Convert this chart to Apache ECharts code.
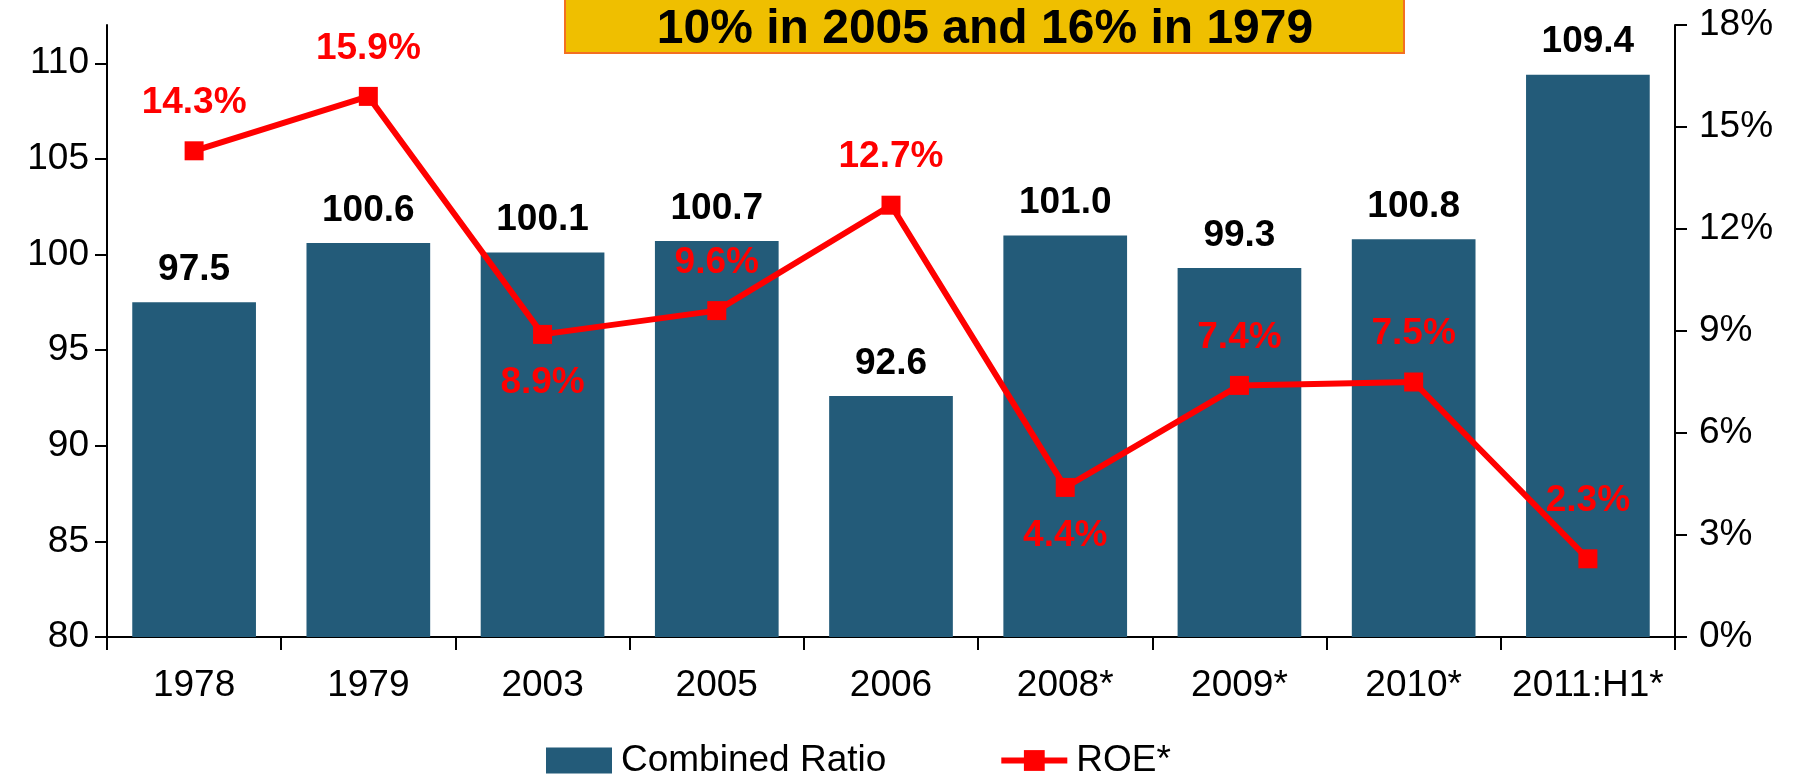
<!DOCTYPE html>
<html>
<head>
<meta charset="utf-8">
<script src="https://cdn.jsdelivr.net/npm/echarts@6/dist/echarts.min.js"></script>
<style>
  html, body { margin: 0; padding: 0; background: #fff; }
  #chart { width: 1797px; height: 775px; }
</style>
</head>
<body>
<div id="chart"></div>
<script>
// data
const categories = ['1978', '1979', '2003', '2005', '2006', '2008*', '2009*', '2010*', '2011:H1*'];
const combinedRatio = [97.5, 100.6, 100.1, 100.7, 92.6, 101.0, 99.3, 100.8, 109.4];
const roe = [14.3, 15.9, 8.9, 9.6, 12.7, 4.4, 7.4, 7.5, 2.3];
const leftTicks = [80, 85, 90, 95, 100, 105, 110];
const headline = '10% in 2005 and 16% in 1979';

// where each ROE label sits relative to its marker
const roeLabelSide = ['top', 'top', 'bottom', 'top', 'top', 'bottom', 'top', 'top', 'top'];

const FONT = 'Liberation Sans, Arial, sans-serif';
const BAR = '#235b79';
const RED = '#ff0000';

const chart = echarts.init(document.getElementById('chart'), null, { renderer: 'canvas' });

const option = {
  backgroundColor: '#fff',
  animation: false,
  textStyle: { fontFamily: FONT },
  grid: { left: 107, right: 122, top: 25, bottom: 138, containLabel: false },
  legend: {
    left: 541,
    top: 737,
    itemWidth: 66,
    itemHeight: 26,
    itemGap: 112,
    textStyle: { fontSize: 37, color: '#000', fontFamily: FONT, padding: [0, 0, 0, 4] },
    data: [
      { name: 'Combined Ratio', icon: 'rect' },
      { name: 'ROE*', lineStyle: { width: 6, color: RED } }
    ]
  },
  xAxis: {
    type: 'category',
    data: categories,
    axisLine: { lineStyle: { color: '#000', width: 2 } },
    axisTick: { show: true, length: 13, interval: 0, alignWithLabel: false, lineStyle: { color: '#000', width: 2 } },
    axisLabel: { interval: 0, color: '#000', fontSize: 37, margin: 30, fontFamily: FONT }
  },
  yAxis: [
    {
      type: 'value',
      min: 80,
      max: 112,
      splitLine: { show: false },
      axisLine: { show: true, lineStyle: { color: '#000', width: 2 } },
      axisTick: { show: true, length: 12, customValues: leftTicks, lineStyle: { color: '#000', width: 2 } },
      axisLabel: { customValues: leftTicks, color: '#000', fontSize: 37, margin: 18, fontFamily: FONT }
    },
    {
      type: 'value',
      min: 0,
      max: 18,
      interval: 3,
      position: 'right',
      splitLine: { show: false },
      axisLine: { show: true, lineStyle: { color: '#000', width: 2 } },
      axisTick: { show: true, length: 12, lineStyle: { color: '#000', width: 2 } },
      axisLabel: { formatter: '{value}%', color: '#000', fontSize: 37, margin: 24, fontFamily: FONT }
    }
  ],
  series: [
    {
      name: 'Combined Ratio',
      type: 'bar',
      yAxisIndex: 0,
      data: combinedRatio,
      barCategoryGap: '29%',
      itemStyle: { color: BAR },
      label: {
        show: true,
        position: 'top',
        distance: 14,
        color: '#000',
        fontSize: 37,
        fontWeight: 'bold',
        fontFamily: FONT,
        formatter: p => p.value.toFixed(1)
      },
      z: 2
    },
    {
      name: 'ROE*',
      type: 'line',
      yAxisIndex: 1,
      data: roe.map((v, i) => ({
        value: v,
        label: { position: roeLabelSide[i], distance: i === 8 ? 30 : 20 }
      })),
      symbol: 'rect',
      symbolSize: 19,
      lineStyle: { color: RED, width: 6 },
      itemStyle: { color: RED },
      label: {
        show: true,
        color: RED,
        fontSize: 37,
        fontWeight: 'bold',
        fontFamily: FONT,
        formatter: p => p.value.toFixed(1) + '%'
      },
      z: 5
    }
  ],
  graphic: [
    {
      type: 'rect',
      shape: { x: 565, y: -10, width: 839, height: 63 },
      style: { fill: '#efbf00', stroke: '#f37021', lineWidth: 2 },
      z: 10
    },
    {
      type: 'text',
      x: 985,
      y: 30,
      style: {
        text: headline,
        fill: '#000',
        font: 'bold 48px ' + FONT,
        align: 'center',
        verticalAlign: 'middle'
      },
      z: 11
    }
  ]
};

chart.setOption(option);
window.addEventListener('resize', () => chart.resize());
</script>
</body>
</html>
